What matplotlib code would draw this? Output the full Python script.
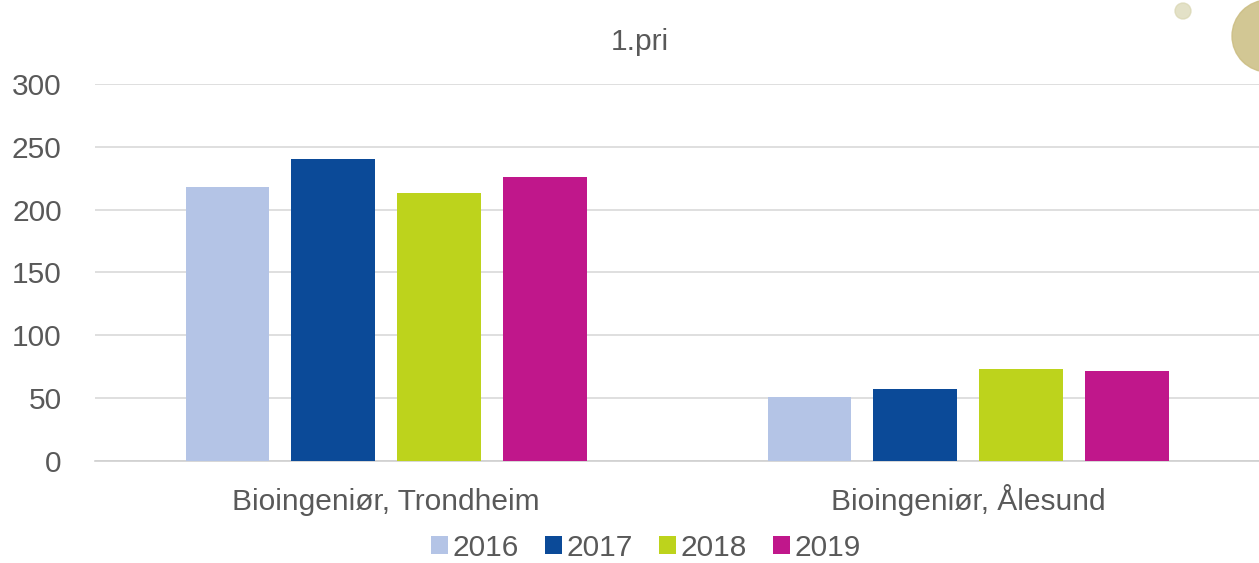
import numpy as np
import matplotlib.pyplot as plt
from matplotlib.patches import Ellipse

plt.rcParams['font.family'] = ['Liberation Sans', 'DejaVu Sans']

# data
categories = ['Bioingeniør, Trondheim', 'Bioingeniør, Ålesund']
years = ['2016', '2017', '2018', '2019']
values_2016 = [218, 51]
values_2017 = [240, 57]
values_2018 = [213, 73]
values_2019 = [226, 72]
series = [values_2016, values_2017, values_2018, values_2019]
colors = ['#b4c4e6', '#0b4a98', '#bdd31c', '#c0178b']
text_color = '#595959'
fs = 21.5

W, H = 12.59, 5.63
fig = plt.figure(figsize=(W, H), dpi=100)
ax = fig.add_axes([0.0755, 0.181, 0.9245, 0.670])

x = np.arange(len(categories))
bar_w = 0.143
step = 0.182
for i, (vals, col) in enumerate(zip(series, colors)):
    ax.bar(x + (i - 1.5) * step, vals, width=bar_w, color=col, label=years[i], zorder=3)

ax.set_xlim(-0.5, 1.5)
ax.set_ylim(0, 300)
ax.set_yticks(range(0, 301, 50))
ax.set_xticks(x)
ax.set_xticklabels(categories, va='baseline')
ax.grid(axis='y', color='#d9d9d9', linewidth=1.2, zorder=0)
for s in ['top', 'right', 'left']:
    ax.spines[s].set_visible(False)
ax.spines['bottom'].set_color('#d0d0d0')
ax.spines['bottom'].set_linewidth(1.2)
ax.tick_params(axis='both', length=0, labelsize=fs, labelcolor=text_color)
ax.tick_params(axis='y', pad=24)
ax.tick_params(axis='x', pad=35)

fig.text(0.508, 0.925, '1.pri', ha='center', va='center', fontsize=fs, color=text_color)

fig.legend(loc='center', bbox_to_anchor=(0.513, 0.027), ncol=4, frameon=False,
           fontsize=fs, labelcolor=text_color, handlelength=0.55, handleheight=0.55,
           handletextpad=0.15, columnspacing=0.9)

# decorative gold circle and dot at top right corner
r = 36
fig.patches.append(Ellipse((1268 / 1259, 1 - 36 / 563), 2 * r / 1259, 2 * r / 563,
                           transform=fig.transFigure, color='#cbbd82', alpha=0.85, zorder=0))
fig.patches.append(Ellipse((1183 / 1259, 1 - 11 / 563), 16 / 1259, 16 / 563,
                           transform=fig.transFigure, color='#d8d5b0', alpha=0.7, zorder=0))

fig.savefig('out.png', dpi=100)
